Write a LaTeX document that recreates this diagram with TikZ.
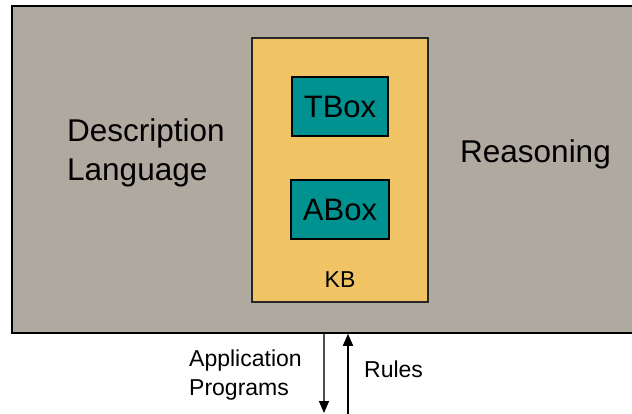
\documentclass[tikz,border=0pt]{standalone}
\usepackage{fontspec}
\setmainfont{Liberation Sans}
\usetikzlibrary{arrows.meta}

\definecolor{panelgray}{RGB}{176,169,159}
\definecolor{kbyellow}{RGB}{240,196,100}
\definecolor{boxteal}{RGB}{0,145,145}
\definecolor{darkline}{RGB}{80,80,80}

\tikzset{
  panel/.style={fill=panelgray, draw=black, line width=1.5pt, inner sep=0pt},
  kbbox/.style={fill=kbyellow, draw=black!85, line width=1.5pt, inner sep=0pt,
    minimum width=176pt, minimum height=264pt},
  subbox/.style={fill=boxteal, draw=black, line width=1.5pt, inner sep=0pt,
    minimum width=96pt, minimum height=59pt,
    font=\fontsize{31}{37}\selectfont},
  bigtext/.style={inner sep=0pt, align=left, font=\fontsize{31.5}{39}\selectfont},
  smalltext/.style={inner sep=0pt, align=left, font=\fontsize{23}{29}\selectfont},
  flow/.style={line width=1.5pt, -{Triangle[length=12pt,width=10pt,color=black]}}
}

\begin{document}
\begin{tikzpicture}[x=1pt, y=-1pt]
  \useasboundingbox (0,0) rectangle (632,414);

  % outer panel; its right edge runs past the page border
  \node[panel, minimum width=622pt, minimum height=327pt] (panel) at (323,169.5) {};

  % knowledge base with its two components
  \node[kbbox] (kb) at (340,170) {};
  \node[subbox] (tbox) at (340,106.5) {TBox};
  \node[subbox, minimum width=98pt] (abox) at (340,209.5) {ABox};
  \node[inner sep=0pt, font=\fontsize{23}{28}\selectfont] (kblabel) at (340,279.5) {KB};

  % side labels (base anchor = baseline of the last line)
  \node[bigtext, anchor=base west] (desc) at (67,181) {Description\\Language};
  \node[bigtext, anchor=base west] (reason) at (460,163) {Reasoning};

  % interface below the panel
  \coordinate (downend) at (324,413);
  \coordinate (upstart) at (348,414);
  \draw[flow, draw=darkline] (panel.south -| downend) -- (downend);
  \draw[flow] (upstart) -- (panel.south -| upstart);

  \node[smalltext, anchor=base west] (apps) at (189,395) {Application\\Programs};
  \node[smalltext, anchor=base west] (rules) at (364,377) {Rules};
\end{tikzpicture}
\end{document}
